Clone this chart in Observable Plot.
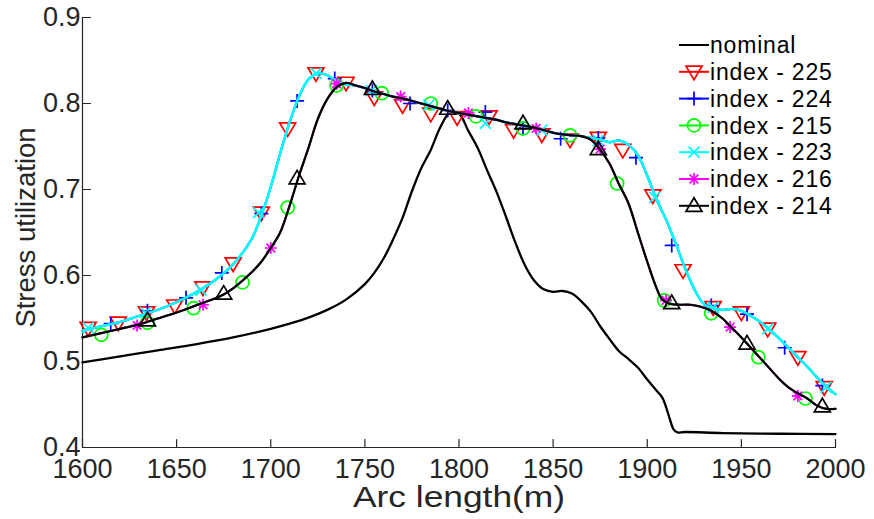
<!DOCTYPE html>
<html><head><meta charset="utf-8">
<script src="https://cdn.jsdelivr.net/npm/d3@7"></script>
<script src="https://cdn.jsdelivr.net/npm/@observablehq/plot@0.6"></script>
<style>
html,body{margin:0;padding:0;background:#fff;}
#chart{width:874px;height:519px;overflow:hidden;}
</style></head><body><div id="chart"></div>
<script>
// ---- axes ----
const xDomain = [1600, 2000];
const yDomain = [0.4, 0.9];
const xTicks = [1600, 1650, 1700, 1750, 1800, 1850, 1900, 1950, 2000];
const yTicks = [0.4, 0.5, 0.6, 0.7, 0.8, 0.9];
const xLabel = "Arc length(m)";
const yLabel = "Stress utilization";

// ---- series ----
const seriesNames = ["nominal", "index - 225", "index - 224", "index - 215", "index - 223", "index - 216", "index - 214"];
const seriesColors = ["#000000", "#ff0000", "#0000ff", "#00ff00", "#00ffff", "#ff00ff", "#000000"];
const seriesSymbols = [null, "triangleDown", "plus", "circle", "times", "asterisk", "triangleUp"];
const seriesCurve = ["nominal", "upper", "upper", "lower", "upper", "lower", "lower"];

// nominal curve
const nominalX = [1600,1620,1640,1660,1680,1700,1710,1720,1730,1740,1750,1755,1760,1765,1770,1775,1780,1785,1790,1795,1800,1805,1810,1815,1820,1825,1830,1835,1840,1845,1850,1855,1860,1865,1870,1875,1880,1885,1890,1895,1900,1905,1908,1910,1912,1914,1916,1920,1940,1970,2000];
const nominalY = [0.499,0.506,0.513,0.520,0.528,0.538,0.544,0.551,0.560,0.572,0.590,0.603,0.620,0.642,0.667,0.698,0.725,0.746,0.772,0.789,0.788,0.768,0.748,0.722,0.697,0.668,0.638,0.612,0.594,0.584,0.581,0.582,0.579,0.570,0.558,0.541,0.526,0.512,0.503,0.493,0.479,0.466,0.458,0.447,0.433,0.421,0.4175,0.418,0.4168,0.416,0.4155];

// curve followed by index 225 / 224 / 223
const upperX = [1600,1610,1620,1630,1640,1650,1660,1670,1680,1690,1695,1700,1705,1710,1715,1720,1725,1730,1735,1740,1745,1750,1755,1760,1765,1770,1775,1780,1785,1790,1795,1800,1805,1810,1815,1820,1825,1830,1835,1840,1845,1850,1855,1860,1865,1870,1875,1880,1885,1890,1895,1900,1905,1910,1915,1920,1925,1930,1935,1940,1945,1950,1955,1960,1965,1970,1975,1980,1985,1990,1995,2000];
const upperY = [0.536,0.541,0.546,0.553,0.560,0.569,0.580,0.594,0.613,0.643,0.670,0.703,0.742,0.778,0.808,0.828,0.835,0.833,0.826,0.822,0.821,0.818,0.814,0.811,0.808,0.806,0.803,0.800,0.797,0.794,0.791,0.789,0.787,0.785,0.783,0.781,0.778,0.776,0.774,0.772,0.769,0.766,0.764,0.763,0.762,0.760,0.758,0.755,0.757,0.752,0.740,0.716,0.688,0.665,0.638,0.609,0.584,0.567,0.562,0.560,0.561,0.559,0.553,0.546,0.537,0.527,0.516,0.505,0.494,0.482,0.471,0.462];

// curve followed by index 215 / 216 / 214
const lowerX = [1600,1610,1620,1630,1640,1650,1660,1670,1675,1680,1685,1690,1695,1700,1705,1710,1715,1720,1725,1730,1735,1740,1745,1750,1755,1760,1765,1770,1775,1780,1785,1790,1795,1800,1805,1810,1815,1820,1825,1830,1835,1840,1845,1850,1855,1860,1865,1870,1875,1880,1885,1890,1895,1900,1905,1908,1912,1918,1923,1928,1934,1940,1945,1950,1955,1960,1965,1970,1975,1980,1985,1990,1995,2000];
const lowerY = [0.528,0.533,0.538,0.543,0.550,0.557,0.565,0.573,0.578,0.585,0.594,0.604,0.616,0.632,0.650,0.681,0.716,0.748,0.782,0.805,0.819,0.824,0.821,0.818,0.814,0.811,0.808,0.806,0.803,0.800,0.797,0.794,0.791,0.789,0.787,0.785,0.783,0.781,0.778,0.776,0.774,0.772,0.769,0.766,0.764,0.763,0.762,0.758,0.746,0.730,0.706,0.684,0.650,0.616,0.585,0.572,0.567,0.566,0.566,0.564,0.559,0.550,0.539,0.528,0.516,0.504,0.492,0.480,0.470,0.463,0.457,0.449,0.445,0.445];

// markers
const m225X = [1603,1619,1634,1649,1664,1680,1695,1709,1724,1740,1755,1770,1785,1799,1816,1829,1844,1859,1874,1887,1903,1919,1935,1950,1964,1980,1994];
const m225Y = [0.539,0.545,0.557,0.565,0.586,0.614,0.673,0.771,0.835,0.824,0.807,0.798,0.788,0.784,0.785,0.769,0.764,0.758,0.760,0.746,0.693,0.606,0.563,0.557,0.538,0.505,0.470];
const m224X = [1615,1634.5,1655,1674,1695,1714,1734,1754,1774,1794,1814,1834,1854,1874,1894,1913,1934,1953,1973,1993];
const m224Y = [0.544,0.559,0.574,0.603,0.672,0.803,0.829,0.815,0.800,0.792,0.790,0.771,0.759,0.760,0.737,0.635,0.565,0.555,0.516,0.472];
const m215X = [1610,1634.5,1659,1685,1709,1735,1759,1785,1809,1834,1859,1884,1909,1934,1959,1984];
const m215Y = [0.531,0.545,0.562,0.592,0.679,0.821,0.812,0.800,0.785,0.771,0.763,0.707,0.571,0.556,0.505,0.457];
const m223X = [1603,1633.5,1663,1693.5,1724,1753.5,1784,1814,1844,1874,1904,1935,1964,1995];
const m223Y = [0.539,0.557,0.583,0.673,0.835,0.815,0.798,0.777,0.769,0.757,0.691,0.563,0.538,0.470];
const m216X = [1629,1664,1700,1735,1769,1805,1841,1875,1910,1944,1980];
const m216Y = [0.542,0.566,0.632,0.823,0.808,0.789,0.771,0.747,0.571,0.540,0.460];
const m214X = [1634.5,1675,1714,1754,1794,1834,1874,1913,1953,1993];
const m214Y = [0.548,0.579,0.713,0.817,0.794,0.777,0.747,0.568,0.521,0.448];

const markerXs = [null, m225X, m224X, m215X, m223X, m216X, m214X];
const markerYs = [null, m225Y, m224Y, m215Y, m223Y, m216Y, m214Y];
const lineWidths = [2.3, 2, 2, 2, 2.6, 2, 2.2];
const markerR = {triangleDown: 8, triangleUp: 8, plus: 7, circle: 6.5, times: 5.5, asterisk: 6};

// ---- custom marker shapes (MATLAB-like) ----
const rad = size => Math.sqrt(size / Math.PI);
const shapes = {
  triangleDown: {draw(c, s) { const r = rad(s); c.moveTo(-r, -0.7 * r); c.lineTo(r, -0.7 * r); c.lineTo(0, r); c.closePath(); }},
  triangleUp: {draw(c, s) { const r = rad(s); c.moveTo(-r, 0.7 * r); c.lineTo(r, 0.7 * r); c.lineTo(0, -r); c.closePath(); }},
  plus: {draw(c, s) { const r = rad(s); c.moveTo(-r, 0); c.lineTo(r, 0); c.moveTo(0, -r); c.lineTo(0, r); }},
  times: {draw(c, s) { const r = rad(s); c.moveTo(-r, -r); c.lineTo(r, r); c.moveTo(-r, r); c.lineTo(r, -r); }},
  asterisk: {draw(c, s) { const r = rad(s), q = r * 0.72; c.moveTo(-r, 0); c.lineTo(r, 0); c.moveTo(0, -r); c.lineTo(0, r); c.moveTo(-q, -q); c.lineTo(q, q); c.moveTo(-q, q); c.lineTo(q, -q); }},
  circle: {draw(c, s) { const r = rad(s); c.moveTo(r, 0); c.arc(0, 0, r, 0, 2 * Math.PI); }}
};
const tickShape = {draw(c, l) { c.moveTo(0, 0); c.lineTo(0, -l); }};

const curves = {
  nominal: nominalX.map((x, i) => ({x, y: nominalY[i]})),
  upper: upperX.map((x, i) => ({x, y: upperY[i]})),
  lower: lowerX.map((x, i) => ({x, y: lowerY[i]}))
};

const axisColor = "#262626";
const marks = [
  Plot.ruleY([yDomain[0]], {stroke: axisColor, strokeWidth: 1.2}),
  Plot.ruleX([xDomain[0]], {stroke: axisColor, strokeWidth: 1.2}),
  Plot.vector(xTicks, {x: d => d, frameAnchor: "bottom", length: 8, anchor: "start", rotate: 0, shape: tickShape, stroke: axisColor, strokeWidth: 1.2}),
  Plot.vector(yTicks, {y: d => d, frameAnchor: "left", length: 8, anchor: "start", rotate: 90, shape: tickShape, stroke: axisColor, strokeWidth: 1.2}),
  Plot.axisX(xTicks, {tickSize: 0, tickPadding: 11, fontSize: 27, tickFormat: d => String(d), label: null, fill: axisColor}),
  Plot.axisY(yTicks, {tickSize: 0, tickPadding: 2, fontSize: 27, tickFormat: d3.format(".1f"), label: null, fill: axisColor}),
  Plot.text([xLabel], {frameAnchor: "bottom", text: d => d, dy: 59, textAnchor: "middle", lineAnchor: "bottom", fontSize: 30, fill: axisColor, className: "xlab"}),
  Plot.text([yLabel], {frameAnchor: "left", text: d => d, dx: -48, dy: -5, rotate: -90, textAnchor: "middle", lineAnchor: "bottom", fontSize: 27.5, fill: axisColor})
];

seriesNames.forEach((name, k) => {
  marks.push(Plot.line(curves[seriesCurve[k]], {x: "x", y: "y", stroke: seriesColors[k], strokeWidth: lineWidths[k], curve: "catmull-rom"}));
  if (seriesSymbols[k]) {
    const pts = markerXs[k].map((x, i) => ({x, y: markerYs[k][i]}));
    marks.push(Plot.dot(pts, {x: "x", y: "y", symbol: shapes[seriesSymbols[k]], r: markerR[seriesSymbols[k]], stroke: seriesColors[k], fill: "none", strokeWidth: 1.7}));
  }
});

const W = 874, H = 519, mL = 82, mR = 39, mT = 17, mB = 72;
const svg = Plot.plot({
  width: W, height: H, marginLeft: mL, marginRight: mR, marginTop: mT, marginBottom: mB,
  x: {domain: xDomain}, y: {domain: yDomain},
  style: {fontFamily: "'Liberation Sans', Arial, sans-serif", background: "#fff", color: axisColor, overflow: "visible"},
  marks
});

// widen the x-axis title to the reference's width
d3.select(svg).selectAll("g.xlab text").attr("textLength", 212).attr("lengthAdjust", "spacingAndGlyphs");

// legend (inside the axes, top right)
const leg = d3.select(svg).append("g").attr("font-family", "'Liberation Sans', Arial, sans-serif").attr("text-anchor", "start");
const lx = W - mR - 156, ly = mT + 28, step = 26.8;
seriesNames.forEach((name, k) => {
  const y = ly + k * step;
  const g = leg.append("g").attr("transform", `translate(${lx},${y})`);
  g.append("line").attr("x1", 0).attr("x2", 30).attr("y1", 0).attr("y2", 0).attr("stroke", seriesColors[k]).attr("stroke-width", 2);
  if (seriesSymbols[k]) {
    const r = markerR[seriesSymbols[k]];
    g.append("path").attr("transform", "translate(15,0)").attr("d", d3.symbol(shapes[seriesSymbols[k]], r * r * Math.PI)())
      .attr("fill", "none").attr("stroke", seriesColors[k]).attr("stroke-width", 1.7);
  }
  g.append("text").attr("x", 31).attr("y", 0).attr("dy", "0.36em").attr("text-anchor", "start").attr("font-size", 23).attr("letter-spacing", 0.8).attr("fill", "#000").text(name);
});

document.getElementById("chart").appendChild(svg);
</script></body></html>
